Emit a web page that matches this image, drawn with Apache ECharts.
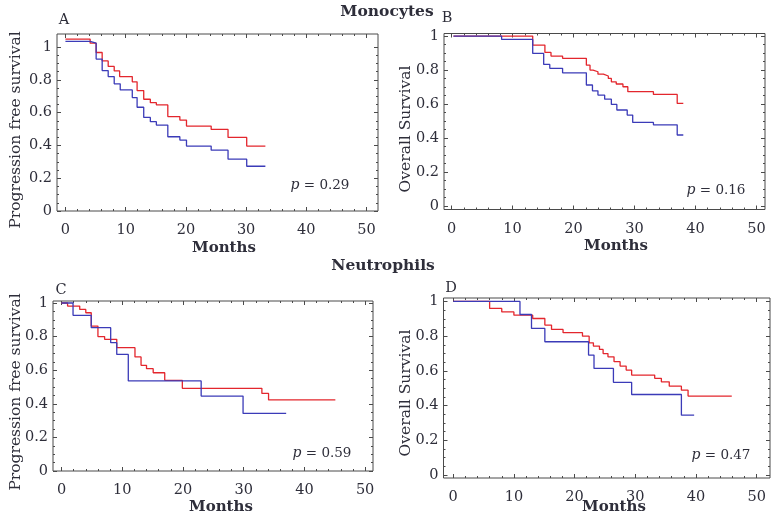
<!DOCTYPE html>
<html><head><meta charset="utf-8">
<script src="https://cdn.jsdelivr.net/npm/echarts@6/dist/echarts.min.js"></script>
<style>html,body{margin:0;padding:0;background:#fff}#c{width:781px;height:516px}</style>
</head><body><div id="c"></div>
<script>
// ---------- ticks ----------
const xTicks = [0, 10, 20, 30, 40, 50];
const xTickLabels = ['0', '10', '20', '30', '40', '50'];
const xMinorTicks = [2,4,6,8,12,14,16,18,22,24,26,28,32,34,36,38,42,44,46,48];
const yTicks = [0, 0.2, 0.4, 0.6, 0.8, 1];
const yTickLabels = ['0', '0.2', '0.4', '0.6', '0.8', '1'];
const yMinorTicks = [0.05,0.1,0.15,0.25,0.3,0.35,0.45,0.5,0.55,0.65,0.7,0.75,0.85,0.9,0.95];

// ---------- texts ----------
const panelLetters = ['A', 'B', 'C', 'D'];
const groupTitles = ['Monocytes', 'Neutrophils'];
const yTitles = ['Progression free survival', 'Overall Survival', 'Progression free survival', 'Overall Survival'];
const xTitle = 'Months';
const pValues = ['0.29', '0.16', '0.59', '0.47'];

// ---------- Panel A (Monocytes, PFS) ----------
const aRedMonths = [0, 4.1, 5.1, 6.1, 7.1, 8.1, 9.0, 11.1, 11.9, 13.0, 14.1, 15.1, 17.0, 19.0, 20.1, 24.2, 27.0, 30.1, 33.2];
const aRedSurv   = [1.049, 1.024, 0.967, 0.916, 0.882, 0.855, 0.820, 0.788, 0.735, 0.682, 0.661, 0.647, 0.576, 0.555, 0.518, 0.498, 0.449, 0.396, 0.396];
const aBlueMonths = [0, 4.1, 5.1, 6.1, 7.1, 8.1, 9.1, 11.1, 11.9, 13.0, 14.1, 15.1, 17.0, 19.0, 20.1, 24.2, 27.0, 30.1, 33.2];
const aBlueSurv   = [1.035, 1.024, 0.927, 0.857, 0.820, 0.776, 0.739, 0.692, 0.633, 0.571, 0.545, 0.524, 0.453, 0.433, 0.396, 0.371, 0.316, 0.273, 0.273];

// ---------- Panel B (Monocytes, OS) ----------
const bRedMonths = [0.3, 13.3, 15.3, 16.3, 18.2, 22.1, 22.7, 23.2, 24.0, 24.9, 25.7, 26.2, 27.0, 28.1, 28.9, 33.1, 37.0, 38.0];
const bRedSurv   = [1.0, 0.947, 0.904, 0.882, 0.869, 0.829, 0.800, 0.790, 0.776, 0.765, 0.751, 0.731, 0.718, 0.702, 0.673, 0.657, 0.604, 0.604];
const bBlueMonths = [0.3, 8.2, 13.3, 15.1, 16.1, 18.2, 22.1, 23.1, 24.0, 25.1, 26.2, 27.1, 28.8, 29.7, 33.1, 37.0, 38.0];
const bBlueSurv   = [1.0, 0.980, 0.898, 0.833, 0.810, 0.784, 0.712, 0.678, 0.653, 0.629, 0.598, 0.565, 0.535, 0.492, 0.478, 0.418, 0.418];

// ---------- Panel C (Neutrophils, PFS) ----------
const cRedMonths = [0, 1.0, 3.0, 4.0, 4.9, 6.0, 7.1, 9.1, 12.1, 13.1, 14.0, 15.1, 17.0, 19.9, 33.0, 34.1, 45.1];
const cRedSurv   = [1.0, 0.982, 0.962, 0.942, 0.863, 0.800, 0.784, 0.734, 0.679, 0.629, 0.609, 0.585, 0.540, 0.492, 0.462, 0.423, 0.423];
const cBlueMonths = [0, 1.9, 4.9, 8.1, 9.1, 11.0, 23.0, 29.9, 37.0];
const cBlueSurv   = [1.0, 0.927, 0.853, 0.764, 0.694, 0.536, 0.446, 0.343, 0.343];

// ---------- Panel D (Neutrophils, OS) ----------
const dRedMonths = [0, 6.0, 8.0, 10.0, 13.1, 15.1, 16.2, 18.1, 21.3, 22.4, 23.1, 24.1, 24.7, 25.5, 26.5, 27.5, 28.5, 29.4, 33.2, 34.3, 35.6, 37.6, 38.7, 45.9];
const dRedSurv   = [1.0, 0.960, 0.940, 0.921, 0.902, 0.864, 0.839, 0.820, 0.800, 0.762, 0.743, 0.724, 0.700, 0.681, 0.653, 0.628, 0.605, 0.576, 0.557, 0.537, 0.512, 0.489, 0.455, 0.455];
const dBlueMonths = [0, 11.0, 12.9, 15.1, 22.3, 23.2, 26.4, 29.4, 37.6, 39.7];
const dBlueSurv   = [1.0, 0.925, 0.845, 0.768, 0.691, 0.614, 0.534, 0.464, 0.345, 0.345];

const curves = [
  [[aRedMonths, aRedSurv], [aBlueMonths, aBlueSurv]],
  [[bRedMonths, bRedSurv], [bBlueMonths, bBlueSurv]],
  [[cRedMonths, cRedSurv], [cBlueMonths, cBlueSurv]],
  [[dRedMonths, dRedSurv], [dBlueMonths, dBlueSurv]]
];

// ---------- layout (pixels / axis extents) ----------
const layout = [
  { grid: { left: 57, top: 34, width: 321, height: 177 }, x: [-1.4, 51.9], y: [0, 1.08] },
  { grid: { left: 444, top: 33.5, width: 321, height: 176 }, x: [-1.25, 51.4], y: [-0.02, 1.015] },
  { grid: { left: 53, top: 301, width: 320, height: 170 }, x: [-1.4, 51.3], y: [0, 1.012] },
  { grid: { left: 443.5, top: 298, width: 326.5, height: 180 }, x: [-1.6, 52.2], y: [-0.017, 1.02] }
];

const RED = '#e3262d', BLUE = '#3b3bb8';
const FRAME = '#4a4a4a', TEXT = '#2e2e3a';
const SERIF = '"DejaVu Serif", serif';

const grids = [], xAxes = [], yAxes = [], series = [], graphics = [];

layout.forEach((L, i) => {
  grids.push(Object.assign({ show: true, borderColor: FRAME, borderWidth: 1, backgroundColor: 'transparent' }, L.grid));
  grids.push(Object.assign({ show: false }, L.grid));
  const gMaj = 2 * i, gMin = 2 * i + 1;
  const xBase = { type: 'value', min: L.x[0], max: L.x[1], splitLine: { show: false },
    axisLine: { show: false, onZero: false } };
  const yBase = { type: 'value', min: L.y[0], max: L.y[1], splitLine: { show: false },
    axisLine: { show: false, onZero: false } };
  // x axes
  xAxes.push(Object.assign({}, xBase, { gridIndex: gMaj, position: 'bottom',
    axisTick: { inside: true, length: 4, customValues: xTicks, lineStyle: { color: FRAME } },
    axisLabel: { customValues: xTicks, margin: 12, color: TEXT, fontFamily: SERIF, fontSize: 14.5,
      formatter: v => xTickLabels[xTicks.indexOf(v)] ?? '' } }));
  xAxes.push(Object.assign({}, xBase, { gridIndex: gMaj, position: 'top',
    axisTick: { inside: true, length: 4, customValues: xTicks, lineStyle: { color: FRAME } },
    axisLabel: { show: false } }));
  xAxes.push(Object.assign({}, xBase, { gridIndex: gMin, position: 'bottom',
    axisTick: { inside: true, length: 2, customValues: xMinorTicks, lineStyle: { color: FRAME } },
    axisLabel: { show: false } }));
  xAxes.push(Object.assign({}, xBase, { gridIndex: gMin, position: 'top',
    axisTick: { inside: true, length: 2, customValues: xMinorTicks, lineStyle: { color: FRAME } },
    axisLabel: { show: false } }));
  // y axes
  yAxes.push(Object.assign({}, yBase, { gridIndex: gMaj, position: 'left',
    axisTick: { inside: true, length: 4, customValues: yTicks, lineStyle: { color: FRAME } },
    axisLabel: { customValues: yTicks, margin: 5, color: TEXT, fontFamily: SERIF, fontSize: 14.5,
      formatter: v => yTickLabels[yTicks.indexOf(v)] ?? '' } }));
  yAxes.push(Object.assign({}, yBase, { gridIndex: gMaj, position: 'right',
    axisTick: { inside: true, length: 4, customValues: yTicks, lineStyle: { color: FRAME } },
    axisLabel: { show: false } }));
  yAxes.push(Object.assign({}, yBase, { gridIndex: gMin, position: 'left',
    axisTick: { inside: true, length: 2, customValues: yMinorTicks, lineStyle: { color: FRAME } },
    axisLabel: { show: false } }));
  yAxes.push(Object.assign({}, yBase, { gridIndex: gMin, position: 'right',
    axisTick: { inside: true, length: 2, customValues: yMinorTicks, lineStyle: { color: FRAME } },
    axisLabel: { show: false } }));

  curves[i].forEach((c, k) => {
    series.push({
      type: 'line', step: 'end', xAxisIndex: 4 * i, yAxisIndex: 4 * i,
      data: c[0].map((t, j) => [t, c[1][j]]),
      showSymbol: false, symbol: 'none', clip: false, silent: true,
      lineStyle: { color: k === 0 ? RED : BLUE, width: 1.3 },
      z: k === 0 ? 2 : 3
    });
  });
});

// text placements
const letterPos = [[64, 20], [447, 18], [61, 290], [451, 288]];
const yTitlePos = [[16, 130], [406, 129], [16, 392], [406, 393]];
const monthsPos = [[224, 248], [616, 246], [221, 507], [614, 507]];
const pPos = [[320, 185], [716, 190], [322, 453], [721, 455]];
const groupPos = [[387, 12], [383, 266]];

groupTitles.forEach((t, i) => graphics.push({ type: 'text', x: groupPos[i][0], y: groupPos[i][1],
  style: { text: t, fill: TEXT, font: 'bold 15.5px ' + SERIF, align: 'center', verticalAlign: 'middle' } }));
panelLetters.forEach((t, i) => graphics.push({ type: 'text', x: letterPos[i][0], y: letterPos[i][1],
  style: { text: t, fill: TEXT, font: '14.5px ' + SERIF, align: 'center', verticalAlign: 'middle' } }));
yTitles.forEach((t, i) => graphics.push({ type: 'text', x: yTitlePos[i][0], y: yTitlePos[i][1], rotation: Math.PI / 2,
  style: { text: t, fill: TEXT, font: '15.5px ' + SERIF, align: 'center', verticalAlign: 'middle' } }));
monthsPos.forEach((p, i) => graphics.push({ type: 'text', x: p[0], y: p[1],
  style: { text: xTitle, fill: TEXT, font: 'bold 15px ' + SERIF, align: 'center', verticalAlign: 'middle' } }));
pValues.forEach((v, i) => graphics.push({ type: 'text', x: pPos[i][0], y: pPos[i][1],
  style: { text: '{i|p} = ' + v, fill: TEXT, font: '13.5px ' + SERIF, align: 'center', verticalAlign: 'middle',
    rich: { i: { fontStyle: 'italic', fontFamily: SERIF, fontSize: 14, fill: TEXT } } } }));

const chart = echarts.init(document.getElementById('c'), null, { renderer: 'canvas' });
chart.setOption({
  animation: false,
  backgroundColor: '#fff',
  grid: grids, xAxis: xAxes, yAxis: yAxes, series: series, graphic: graphics
});
</script></body></html>
